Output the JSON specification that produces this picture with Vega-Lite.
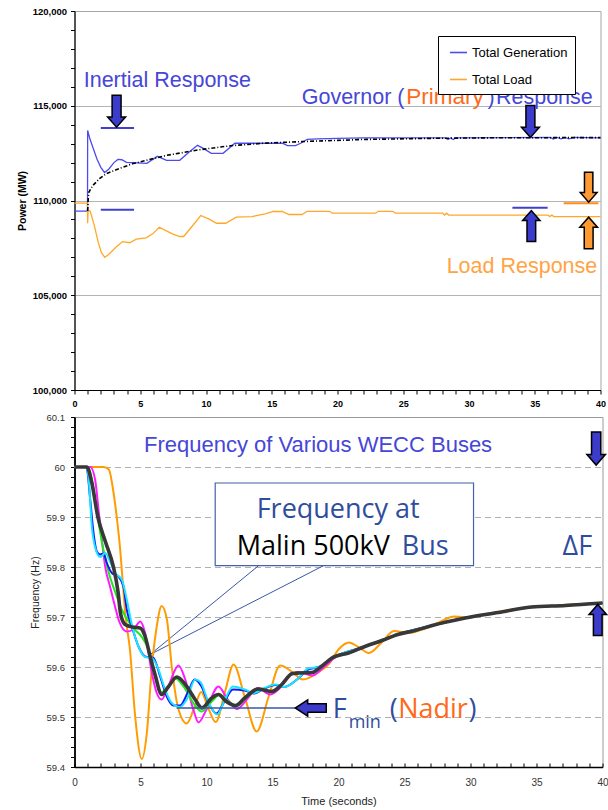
{
  "$schema": "https://vega.github.io/schema/vega-lite/v6.json",
  "background": "white",
  "padding": {"left": 16.5, "top": 5, "right": 0, "bottom": 0},
  "config": {"font": "Liberation Sans"},
  "spacing": 2,
  "resolve": {
    "scale": {"color": "independent", "x": "independent", "y": "independent"},
    "legend": {"color": "independent"}
  },
  "datasets": {
    "power": [
      {"s": "Total Generation", "t": 0, "v": 109435}, {"s": "Total Generation", "t": 0.99, "v": 109435},
      {"s": "Total Generation", "t": 1.0, "v": 113700}, {"s": "Total Generation", "t": 1.15, "v": 113300},
      {"s": "Total Generation", "t": 1.4, "v": 112800}, {"s": "Total Generation", "t": 1.7, "v": 112200},
      {"s": "Total Generation", "t": 2.0, "v": 111750}, {"s": "Total Generation", "t": 2.28, "v": 111480},
      {"s": "Total Generation", "t": 2.6, "v": 111650}, {"s": "Total Generation", "t": 3.0, "v": 112000},
      {"s": "Total Generation", "t": 3.3, "v": 112170}, {"s": "Total Generation", "t": 3.6, "v": 112150},
      {"s": "Total Generation", "t": 3.95, "v": 112010}, {"s": "Total Generation", "t": 5.5, "v": 111960},
      {"s": "Total Generation", "t": 6.3, "v": 112330}, {"s": "Total Generation", "t": 7.0, "v": 112120},
      {"s": "Total Generation", "t": 8.0, "v": 112120}, {"s": "Total Generation", "t": 8.7, "v": 112550},
      {"s": "Total Generation", "t": 9.35, "v": 112910}, {"s": "Total Generation", "t": 9.8, "v": 112750},
      {"s": "Total Generation", "t": 10.4, "v": 112490}, {"s": "Total Generation", "t": 11.3, "v": 112490},
      {"s": "Total Generation", "t": 12.2, "v": 113020}, {"s": "Total Generation", "t": 15.8, "v": 113020},
      {"s": "Total Generation", "t": 16.2, "v": 112900}, {"s": "Total Generation", "t": 16.8, "v": 112900},
      {"s": "Total Generation", "t": 17.2, "v": 113020}, {"s": "Total Generation", "t": 17.7, "v": 113230},
      {"s": "Total Generation", "t": 18.5, "v": 113250}, {"s": "Total Generation", "t": 20, "v": 113280},
      {"s": "Total Generation", "t": 22, "v": 113300}, {"s": "Total Generation", "t": 28.2, "v": 113300},
      {"s": "Total Generation", "t": 28.4, "v": 113220}, {"s": "Total Generation", "t": 28.6, "v": 113300},
      {"s": "Total Generation", "t": 28.8, "v": 113220}, {"s": "Total Generation", "t": 29, "v": 113300},
      {"s": "Total Generation", "t": 36.2, "v": 113330}, {"s": "Total Generation", "t": 36.4, "v": 113250},
      {"s": "Total Generation", "t": 36.7, "v": 113330}, {"s": "Total Generation", "t": 37, "v": 113250},
      {"s": "Total Generation", "t": 37.3, "v": 113330}, {"s": "Total Generation", "t": 37.6, "v": 113250},
      {"s": "Total Generation", "t": 38, "v": 113330}, {"s": "Total Generation", "t": 40, "v": 113300},
      {"s": "Total Load", "t": 0, "v": 109857}, {"s": "Total Load", "t": 0.99, "v": 109857},
      {"s": "Total Load", "t": 1.0, "v": 108800}, {"s": "Total Load", "t": 1.04, "v": 109500},
      {"s": "Total Load", "t": 1.2, "v": 109420}, {"s": "Total Load", "t": 1.5, "v": 108700},
      {"s": "Total Load", "t": 1.8, "v": 107800}, {"s": "Total Load", "t": 2.05, "v": 107250},
      {"s": "Total Load", "t": 2.3, "v": 107000}, {"s": "Total Load", "t": 2.6, "v": 107150},
      {"s": "Total Load", "t": 3.15, "v": 107530}, {"s": "Total Load", "t": 3.65, "v": 107830},
      {"s": "Total Load", "t": 4.2, "v": 107770}, {"s": "Total Load", "t": 4.7, "v": 107960},
      {"s": "Total Load", "t": 5.45, "v": 108030}, {"s": "Total Load", "t": 5.95, "v": 108240},
      {"s": "Total Load", "t": 6.45, "v": 108590}, {"s": "Total Load", "t": 6.95, "v": 108410},
      {"s": "Total Load", "t": 7.45, "v": 108240}, {"s": "Total Load", "t": 8.0, "v": 108100},
      {"s": "Total Load", "t": 8.3, "v": 108100}, {"s": "Total Load", "t": 8.9, "v": 108600},
      {"s": "Total Load", "t": 9.6, "v": 109210}, {"s": "Total Load", "t": 10.2, "v": 109030},
      {"s": "Total Load", "t": 10.8, "v": 108800}, {"s": "Total Load", "t": 11.5, "v": 108800},
      {"s": "Total Load", "t": 12.3, "v": 109120}, {"s": "Total Load", "t": 13.5, "v": 109150},
      {"s": "Total Load", "t": 14.5, "v": 109300}, {"s": "Total Load", "t": 15.1, "v": 109420},
      {"s": "Total Load", "t": 15.8, "v": 109420}, {"s": "Total Load", "t": 16.3, "v": 109260},
      {"s": "Total Load", "t": 17.3, "v": 109260}, {"s": "Total Load", "t": 17.7, "v": 109430},
      {"s": "Total Load", "t": 19.4, "v": 109430}, {"s": "Total Load", "t": 19.6, "v": 109330},
      {"s": "Total Load", "t": 22.9, "v": 109330}, {"s": "Total Load", "t": 23.1, "v": 109430},
      {"s": "Total Load", "t": 24.2, "v": 109430}, {"s": "Total Load", "t": 24.4, "v": 109330},
      {"s": "Total Load", "t": 28, "v": 109330}, {"s": "Total Load", "t": 28.15, "v": 109230},
      {"s": "Total Load", "t": 28.3, "v": 109330}, {"s": "Total Load", "t": 28.45, "v": 109230},
      {"s": "Total Load", "t": 36, "v": 109230}, {"s": "Total Load", "t": 36.15, "v": 109150},
      {"s": "Total Load", "t": 36.3, "v": 109230}, {"s": "Total Load", "t": 36.45, "v": 109150},
      {"s": "Total Load", "t": 40, "v": 109150}
    ],
    "trend": [
      {"t": 1.0, "v": 109450}, {"t": 1.05, "v": 110200}, {"t": 1.1, "v": 110450}, {"t": 1.39, "v": 110790},
      {"t": 1.9, "v": 111150}, {"t": 2.4, "v": 111410}, {"t": 3.17, "v": 111620}, {"t": 4.4, "v": 111940},
      {"t": 7.0, "v": 112380}, {"t": 9.5, "v": 112680}, {"t": 12.0, "v": 112900}, {"t": 14.6, "v": 113030},
      {"t": 17.7, "v": 113120}, {"t": 22, "v": 113220}, {"t": 27, "v": 113280}, {"t": 32, "v": 113310},
      {"t": 40, "v": 113320}
    ],
    "freq": [
      {"bus": "Bus 1", "t": 0, "v": 60}, {"bus": "Bus 1", "t": 2.2, "v": 60}, {"bus": "Bus 1", "t": 2.6, "v": 59.995},
      {"bus": "Bus 1", "t": 2.95, "v": 59.95}, {"bus": "Bus 1", "t": 3.2, "v": 59.9}, {"bus": "Bus 1", "t": 3.46, "v": 59.835},
      {"bus": "Bus 1", "t": 3.71, "v": 59.75}, {"bus": "Bus 1", "t": 3.84, "v": 59.708}, {"bus": "Bus 1", "t": 4.2, "v": 59.635},
      {"bus": "Bus 1", "t": 4.6, "v": 59.5}, {"bus": "Bus 1", "t": 5.1, "v": 59.416}, {"bus": "Bus 1", "t": 5.48, "v": 59.468},
      {"bus": "Bus 1", "t": 5.86, "v": 59.6}, {"bus": "Bus 1", "t": 6.23, "v": 59.681}, {"bus": "Bus 1", "t": 6.6, "v": 59.722},
      {"bus": "Bus 1", "t": 7.0, "v": 59.695}, {"bus": "Bus 1", "t": 7.37, "v": 59.6}, {"bus": "Bus 1", "t": 7.88, "v": 59.515},
      {"bus": "Bus 1", "t": 8.5, "v": 59.487}, {"bus": "Bus 1", "t": 9.1, "v": 59.52}, {"bus": "Bus 1", "t": 9.6, "v": 59.55},
      {"bus": "Bus 1", "t": 10.1, "v": 59.52}, {"bus": "Bus 1", "t": 10.7, "v": 59.49}, {"bus": "Bus 1", "t": 11.4, "v": 59.55},
      {"bus": "Bus 1", "t": 12.05, "v": 59.605}, {"bus": "Bus 1", "t": 12.9, "v": 59.54}, {"bus": "Bus 1", "t": 13.8, "v": 59.471},
      {"bus": "Bus 1", "t": 14.7, "v": 59.54}, {"bus": "Bus 1", "t": 15.58, "v": 59.603}, {"bus": "Bus 1", "t": 16.5, "v": 59.59},
      {"bus": "Bus 1", "t": 17.3, "v": 59.575}, {"bus": "Bus 1", "t": 18.5, "v": 59.59}, {"bus": "Bus 1", "t": 19.3, "v": 59.607},
      {"bus": "Bus 1", "t": 20.0, "v": 59.635}, {"bus": "Bus 1", "t": 20.8, "v": 59.649}, {"bus": "Bus 1", "t": 21.5, "v": 59.64},
      {"bus": "Bus 1", "t": 22.3, "v": 59.628}, {"bus": "Bus 1", "t": 23.3, "v": 59.65}, {"bus": "Bus 1", "t": 24.2, "v": 59.672},
      {"bus": "Bus 1", "t": 25.3, "v": 59.668}, {"bus": "Bus 1", "t": 26.5, "v": 59.676}, {"bus": "Bus 1", "t": 27.5, "v": 59.688},
      {"bus": "Bus 1", "t": 28.8, "v": 59.701}, {"bus": "Bus 1", "t": 30, "v": 59.699}, {"bus": "Bus 1", "t": 31, "v": 59.705},
      {"bus": "Bus 1", "t": 33, "v": 59.714}, {"bus": "Bus 1", "t": 35, "v": 59.72}, {"bus": "Bus 1", "t": 37, "v": 59.724},
      {"bus": "Bus 1", "t": 40, "v": 59.728},
      {"bus": "Bus 2", "t": 0, "v": 60}, {"bus": "Bus 2", "t": 1.2, "v": 60}, {"bus": "Bus 2", "t": 1.56, "v": 59.975},
      {"bus": "Bus 2", "t": 1.82, "v": 59.915}, {"bus": "Bus 2", "t": 2.07, "v": 59.855}, {"bus": "Bus 2", "t": 2.33, "v": 59.8},
      {"bus": "Bus 2", "t": 2.7, "v": 59.76}, {"bus": "Bus 2", "t": 3.08, "v": 59.72}, {"bus": "Bus 2", "t": 3.4, "v": 59.69},
      {"bus": "Bus 2", "t": 3.96, "v": 59.671}, {"bus": "Bus 2", "t": 4.47, "v": 59.675}, {"bus": "Bus 2", "t": 4.98, "v": 59.691},
      {"bus": "Bus 2", "t": 5.35, "v": 59.668}, {"bus": "Bus 2", "t": 5.86, "v": 59.588}, {"bus": "Bus 2", "t": 6.23, "v": 59.548},
      {"bus": "Bus 2", "t": 6.6, "v": 59.535}, {"bus": "Bus 2", "t": 7.1, "v": 59.561}, {"bus": "Bus 2", "t": 7.88, "v": 59.603},
      {"bus": "Bus 2", "t": 8.39, "v": 59.575}, {"bus": "Bus 2", "t": 9.0, "v": 59.515}, {"bus": "Bus 2", "t": 9.39, "v": 59.489},
      {"bus": "Bus 2", "t": 10.0, "v": 59.515}, {"bus": "Bus 2", "t": 10.9, "v": 59.561}, {"bus": "Bus 2", "t": 11.6, "v": 59.535},
      {"bus": "Bus 2", "t": 12.3, "v": 59.516}, {"bus": "Bus 2", "t": 13.05, "v": 59.535}, {"bus": "Bus 2", "t": 13.9, "v": 59.558},
      {"bus": "Bus 2", "t": 14.8, "v": 59.545}, {"bus": "Bus 2", "t": 15.45, "v": 59.555}, {"bus": "Bus 2", "t": 16.2, "v": 59.58},
      {"bus": "Bus 2", "t": 17.0, "v": 59.59}, {"bus": "Bus 2", "t": 18.0, "v": 59.583}, {"bus": "Bus 2", "t": 18.9, "v": 59.6},
      {"bus": "Bus 2", "t": 19.8, "v": 59.62}, {"bus": "Bus 2", "t": 21, "v": 59.63}, {"bus": "Bus 2", "t": 22, "v": 59.641},
      {"bus": "Bus 2", "t": 24.5, "v": 59.665}, {"bus": "Bus 2", "t": 27.1, "v": 59.683}, {"bus": "Bus 2", "t": 29.6, "v": 59.698},
      {"bus": "Bus 2", "t": 32.1, "v": 59.709}, {"bus": "Bus 2", "t": 34.6, "v": 59.72}, {"bus": "Bus 2", "t": 37.2, "v": 59.723},
      {"bus": "Bus 2", "t": 40, "v": 59.728},
      {"bus": "Bus 3", "t": 0, "v": 60}, {"bus": "Bus 3", "t": 1.0, "v": 60}, {"bus": "Bus 3", "t": 1.19, "v": 59.99},
      {"bus": "Bus 3", "t": 1.56, "v": 59.935}, {"bus": "Bus 3", "t": 2.07, "v": 59.85}, {"bus": "Bus 3", "t": 2.58, "v": 59.79},
      {"bus": "Bus 3", "t": 3.08, "v": 59.75}, {"bus": "Bus 3", "t": 3.58, "v": 59.715}, {"bus": "Bus 3", "t": 4.34, "v": 59.681},
      {"bus": "Bus 3", "t": 5.1, "v": 59.66}, {"bus": "Bus 3", "t": 5.6, "v": 59.635}, {"bus": "Bus 3", "t": 6.1, "v": 59.581},
      {"bus": "Bus 3", "t": 6.6, "v": 59.55}, {"bus": "Bus 3", "t": 7.1, "v": 59.56}, {"bus": "Bus 3", "t": 7.6, "v": 59.578},
      {"bus": "Bus 3", "t": 8.26, "v": 59.561}, {"bus": "Bus 3", "t": 9.0, "v": 59.528}, {"bus": "Bus 3", "t": 9.64, "v": 59.511},
      {"bus": "Bus 3", "t": 10.4, "v": 59.531}, {"bus": "Bus 3", "t": 11.0, "v": 59.545}, {"bus": "Bus 3", "t": 11.6, "v": 59.533},
      {"bus": "Bus 3", "t": 12.3, "v": 59.522}, {"bus": "Bus 3", "t": 13.0, "v": 59.538}, {"bus": "Bus 3", "t": 14.0, "v": 59.556},
      {"bus": "Bus 3", "t": 15.0, "v": 59.551}, {"bus": "Bus 3", "t": 15.7, "v": 59.565}, {"bus": "Bus 3", "t": 16.5, "v": 59.587},
      {"bus": "Bus 3", "t": 18, "v": 59.589}, {"bus": "Bus 3", "t": 19.5, "v": 59.618}, {"bus": "Bus 3", "t": 22, "v": 59.641},
      {"bus": "Bus 3", "t": 24.5, "v": 59.665}, {"bus": "Bus 3", "t": 27.1, "v": 59.683}, {"bus": "Bus 3", "t": 29.6, "v": 59.698},
      {"bus": "Bus 3", "t": 32.1, "v": 59.709}, {"bus": "Bus 3", "t": 34.6, "v": 59.72}, {"bus": "Bus 3", "t": 37.2, "v": 59.723},
      {"bus": "Bus 3", "t": 40, "v": 59.728},
      {"bus": "Bus 4", "t": 0, "v": 60}, {"bus": "Bus 4", "t": 0.9, "v": 60}, {"bus": "Bus 4", "t": 1.19, "v": 59.935},
      {"bus": "Bus 4", "t": 1.44, "v": 59.868}, {"bus": "Bus 4", "t": 1.69, "v": 59.831}, {"bus": "Bus 4", "t": 1.95, "v": 59.825},
      {"bus": "Bus 4", "t": 2.2, "v": 59.827}, {"bus": "Bus 4", "t": 2.45, "v": 59.808}, {"bus": "Bus 4", "t": 2.83, "v": 59.788},
      {"bus": "Bus 4", "t": 3.33, "v": 59.781}, {"bus": "Bus 4", "t": 3.71, "v": 59.761}, {"bus": "Bus 4", "t": 3.96, "v": 59.715},
      {"bus": "Bus 4", "t": 4.34, "v": 59.681}, {"bus": "Bus 4", "t": 4.85, "v": 59.641}, {"bus": "Bus 4", "t": 5.35, "v": 59.621},
      {"bus": "Bus 4", "t": 5.98, "v": 59.618}, {"bus": "Bus 4", "t": 6.49, "v": 59.581}, {"bus": "Bus 4", "t": 6.99, "v": 59.541},
      {"bus": "Bus 4", "t": 7.5, "v": 59.523}, {"bus": "Bus 4", "t": 8.0, "v": 59.523}, {"bus": "Bus 4", "t": 8.6, "v": 59.55},
      {"bus": "Bus 4", "t": 9.1, "v": 59.575}, {"bus": "Bus 4", "t": 9.6, "v": 59.562}, {"bus": "Bus 4", "t": 10.15, "v": 59.528},
      {"bus": "Bus 4", "t": 10.75, "v": 59.507}, {"bus": "Bus 4", "t": 11.4, "v": 59.533}, {"bus": "Bus 4", "t": 12.0, "v": 59.555},
      {"bus": "Bus 4", "t": 12.9, "v": 59.553}, {"bus": "Bus 4", "t": 13.6, "v": 59.547}, {"bus": "Bus 4", "t": 14.4, "v": 59.557},
      {"bus": "Bus 4", "t": 15.2, "v": 59.564}, {"bus": "Bus 4", "t": 15.9, "v": 59.56}, {"bus": "Bus 4", "t": 16.95, "v": 59.577},
      {"bus": "Bus 4", "t": 17.7, "v": 59.595}, {"bus": "Bus 4", "t": 18.5, "v": 59.6}, {"bus": "Bus 4", "t": 19.5, "v": 59.618},
      {"bus": "Bus 4", "t": 22, "v": 59.641}, {"bus": "Bus 4", "t": 24.5, "v": 59.665}, {"bus": "Bus 4", "t": 27.1, "v": 59.683},
      {"bus": "Bus 4", "t": 29.6, "v": 59.698}, {"bus": "Bus 4", "t": 32.1, "v": 59.709}, {"bus": "Bus 4", "t": 34.6, "v": 59.72},
      {"bus": "Bus 4", "t": 37.2, "v": 59.723}, {"bus": "Bus 4", "t": 40, "v": 59.728},
      {"bus": "Bus 5", "t": 0, "v": 60}, {"bus": "Bus 5", "t": 0.85, "v": 60}, {"bus": "Bus 5", "t": 1.06, "v": 59.98},
      {"bus": "Bus 5", "t": 1.31, "v": 59.881}, {"bus": "Bus 5", "t": 1.61, "v": 59.835}, {"bus": "Bus 5", "t": 1.95, "v": 59.82},
      {"bus": "Bus 5", "t": 2.33, "v": 59.828}, {"bus": "Bus 5", "t": 2.7, "v": 59.81}, {"bus": "Bus 5", "t": 3.08, "v": 59.788},
      {"bus": "Bus 5", "t": 3.58, "v": 59.775}, {"bus": "Bus 5", "t": 3.96, "v": 59.735}, {"bus": "Bus 5", "t": 4.34, "v": 59.685},
      {"bus": "Bus 5", "t": 4.85, "v": 59.641}, {"bus": "Bus 5", "t": 5.35, "v": 59.62}, {"bus": "Bus 5", "t": 5.86, "v": 59.618},
      {"bus": "Bus 5", "t": 6.36, "v": 59.595}, {"bus": "Bus 5", "t": 6.86, "v": 59.555}, {"bus": "Bus 5", "t": 7.37, "v": 59.528},
      {"bus": "Bus 5", "t": 8.0, "v": 59.52}, {"bus": "Bus 5", "t": 8.5, "v": 59.535}, {"bus": "Bus 5", "t": 9.14, "v": 59.575},
      {"bus": "Bus 5", "t": 9.54, "v": 59.57}, {"bus": "Bus 5", "t": 10.17, "v": 59.528}, {"bus": "Bus 5", "t": 10.8, "v": 59.505},
      {"bus": "Bus 5", "t": 11.4, "v": 59.535}, {"bus": "Bus 5", "t": 12.0, "v": 59.561}, {"bus": "Bus 5", "t": 12.9, "v": 59.555},
      {"bus": "Bus 5", "t": 13.6, "v": 59.548}, {"bus": "Bus 5", "t": 14.4, "v": 59.558}, {"bus": "Bus 5", "t": 15.2, "v": 59.565},
      {"bus": "Bus 5", "t": 15.9, "v": 59.56}, {"bus": "Bus 5", "t": 16.95, "v": 59.577}, {"bus": "Bus 5", "t": 17.7, "v": 59.597},
      {"bus": "Bus 5", "t": 18.5, "v": 59.6}, {"bus": "Bus 5", "t": 19.5, "v": 59.618}, {"bus": "Bus 5", "t": 22, "v": 59.641},
      {"bus": "Bus 5", "t": 24.5, "v": 59.665}, {"bus": "Bus 5", "t": 27.1, "v": 59.683}, {"bus": "Bus 5", "t": 29.6, "v": 59.698},
      {"bus": "Bus 5", "t": 32.1, "v": 59.709}, {"bus": "Bus 5", "t": 34.6, "v": 59.72}, {"bus": "Bus 5", "t": 37.2, "v": 59.723},
      {"bus": "Bus 5", "t": 40, "v": 59.728}
    ],
    "malin": [
      {"t": 0, "v": 60}, {"t": 0.93, "v": 60}, {"t": 1.3, "v": 59.97}, {"t": 1.77, "v": 59.9}, {"t": 2.35, "v": 59.85},
      {"t": 2.95, "v": 59.8}, {"t": 3.3, "v": 59.75}, {"t": 3.5, "v": 59.705}, {"t": 3.84, "v": 59.685}, {"t": 4.4, "v": 59.68},
      {"t": 4.97, "v": 59.678}, {"t": 5.35, "v": 59.661}, {"t": 5.73, "v": 59.621}, {"t": 6.1, "v": 59.585}, {"t": 6.6, "v": 59.545},
      {"t": 7.1, "v": 59.56}, {"t": 7.75, "v": 59.58}, {"t": 8.39, "v": 59.565}, {"t": 9.14, "v": 59.535}, {"t": 9.65, "v": 59.518},
      {"t": 10.4, "v": 59.538}, {"t": 10.9, "v": 59.545}, {"t": 11.5, "v": 59.531}, {"t": 12.2, "v": 59.523}, {"t": 12.9, "v": 59.538},
      {"t": 13.9, "v": 59.556}, {"t": 14.95, "v": 59.551}, {"t": 15.7, "v": 59.565}, {"t": 16.5, "v": 59.587}, {"t": 17.0, "v": 59.588},
      {"t": 18.0, "v": 59.589}, {"t": 18.7, "v": 59.601}, {"t": 19.5, "v": 59.618}, {"t": 20.76, "v": 59.628}, {"t": 22.0, "v": 59.641},
      {"t": 23.3, "v": 59.653}, {"t": 24.5, "v": 59.665}, {"t": 25.8, "v": 59.673}, {"t": 27.1, "v": 59.683}, {"t": 29.6, "v": 59.698},
      {"t": 32.1, "v": 59.709}, {"t": 34.6, "v": 59.72}, {"t": 37.2, "v": 59.723}, {"t": 40, "v": 59.728}
    ]
  },
  "vconcat": [
    {
      "width": 526,
      "height": 379,
      "view": {"stroke": "#a6a6a6", "strokeWidth": 1},
      "encoding": {
        "x": {
          "field": "t", "type": "quantitative",
          "scale": {"domain": [0, 40], "nice": false, "zero": false},
          "axis": {
            "title": null,
            "values": [0,1,2,3,4,5,6,7,8,9,10,11,12,13,14,15,16,17,18,19,20,21,22,23,24,25,26,27,28,29,30,31,32,33,34,35,36,37,38,39,40],
            "labelExpr": "datum.value % 5 === 0 ? datum.label : ''",
            "labelFont": "Liberation Sans", "labelFontWeight": "bold", "labelFontSize": 9, "labelColor": "#000",
            "tickColor": "#000", "tickSize": 4,
            "labelPadding": 5,
            "domainColor": "#000", "domainWidth": 1.2,
            "grid": false, "labelFlush": false
          }
        },
        "y": {
          "field": "v", "type": "quantitative",
          "scale": {"domain": [100000, 120000], "nice": false, "zero": false},
          "axis": {
            "title": "Power (MW)",
            "titleFont": "Liberation Sans", "titleFontSize": 10.5, "titleFontWeight": "bold", "titleColor": "#000",
            "titlePadding": 5,
            "values": [100000,101000,102000,103000,104000,105000,106000,107000,108000,109000,110000,111000,112000,113000,114000,115000,116000,117000,118000,119000,120000],
            "labelExpr": "datum.value % 5000 === 0 ? format(datum.value, ',') : ''",
            "labelFont": "Liberation Sans", "labelFontWeight": "bold", "labelFontSize": 9.5, "labelColor": "#000",
            "labelPadding": 4,
            "tickColor": "#000", "tickSize": 4,
            "domainColor": "#000", "domainWidth": 1.2,
            "grid": true, "gridColor": "#b4b4b4", "gridWidth": 1,
            "gridOpacity": {"condition": {"test": "datum.value % 5000 === 0 && datum.value > 100000 && datum.value < 120000", "value": 1}, "value": 0}
          }
        }
      },
      "layer": [
        {
          "data": {"name": "power"},
          "mark": {"type": "line", "strokeWidth": 1.3, "interpolate": "linear"},
          "encoding": {
            "color": {
              "field": "s", "type": "nominal",
              "scale": {"domain": ["Total Generation", "Total Load"], "range": ["#4b4bf0", "#ffa828"]},
              "legend": {
                "orient": "none", "legendX": 363.5, "legendY": 25, "title": null,
                "strokeColor": "#000", "fillColor": "#fff", "padding": 7,
                "symbolType": "stroke", "symbolSize": 289, "symbolStrokeWidth": 1.6,
                "labelFont": "Liberation Sans", "labelFontSize": 13, "labelColor": "#000",
                "rowPadding": 10, "symbolOffset": 4, "labelOffset": 4
              }
            }
          }
        },
        {
          "data": {"name": "trend"},
          "mark": {"type": "line", "color": "#000", "strokeWidth": 1.6, "strokeDash": [4, 2, 1, 2]}
        },
        {
          "data": {"values": [
            {"t": 2.0, "t2": 4.53, "v": 113820},
            {"t": 2.0, "t2": 4.53, "v": 109510},
            {"t": 33.3, "t2": 35.98, "v": 109614}
          ]},
          "mark": {"type": "rule", "color": "#4040d0", "strokeWidth": 2},
          "encoding": {"x2": {"field": "t2"}}
        },
        {
          "data": {"values": [{"t": 37.2, "t2": 39.84, "v": 109857}]},
          "mark": {"type": "rule", "color": "#ff8c1a", "strokeWidth": 2},
          "encoding": {"x2": {"field": "t2"}}
        },
        {
          "data": {"values": [{"t": 3.2, "v": 114712}, {"t": 34.67, "v": 114173}]},
          "mark": {"type": "point", "shape": "M-0.28,-1L0.28,-1L0.28,0.36L0.56,0.36L0,1L-0.56,0.36L-0.28,0.36Z", "size": 1024, "filled": true, "fill": "#3b3bcc", "stroke": "#000", "strokeWidth": 1.5, "opacity": 1}
        },
        {
          "data": {"values": [{"t": 34.74, "v": 108653}]},
          "mark": {"type": "point", "shape": "M-0.28,1L0.28,1L0.28,-0.36L0.56,-0.36L0,-1L-0.56,-0.36L-0.28,-0.36Z", "size": 961, "filled": true, "fill": "#3b3bcc", "stroke": "#000", "strokeWidth": 1.5, "opacity": 1}
        },
        {
          "data": {"values": [{"t": 39.1, "v": 110703}]},
          "mark": {"type": "point", "shape": "M-0.28,-1L0.28,-1L0.28,0.36L0.56,0.36L0,1L-0.56,0.36L-0.28,0.36Z", "size": 900, "filled": true, "fill": "#ff9a33", "stroke": "#000", "strokeWidth": 1.5, "opacity": 1}
        },
        {
          "data": {"values": [{"t": 39.1, "v": 108283}]},
          "mark": {"type": "point", "shape": "M-0.28,1L0.28,1L0.28,-0.36L0.56,-0.36L0,-1L-0.56,-0.36L-0.28,-0.36Z", "size": 1000, "filled": true, "fill": "#ff9a33", "stroke": "#000", "strokeWidth": 1.5, "opacity": 1}
        },
        {
          "data": {"values": [
            {"label": "Inertial Response", "t": 0.7, "v": 115985},
            {"label": "Governor (", "t": 17.28, "v": 115071},
            {"label": ")", "t": 31.41, "v": 115071},
            {"label": "Response", "t": 32.05, "v": 115071}
          ]},
          "mark": {"type": "text", "align": "left", "baseline": "alphabetic", "font": "Liberation Sans", "fontSize": 21.5, "color": "#4646d8"},
          "encoding": {"text": {"field": "label", "type": "nominal"}}
        },
        {
          "data": {"values": [{"label": "Primary", "t": 25.22, "v": 115071}]},
          "mark": {"type": "text", "align": "left", "baseline": "alphabetic", "font": "Liberation Sans", "fontSize": 22.5, "color": "#ff6a1a"},
          "encoding": {"text": {"field": "label", "type": "nominal"}}
        },
        {
          "data": {"values": [{"label": "Load Response", "t": 28.3, "v": 106180}]},
          "mark": {"type": "text", "align": "left", "baseline": "alphabetic", "font": "Liberation Sans", "fontSize": 21.5, "color": "#ffa445"},
          "encoding": {"text": {"field": "label", "type": "nominal"}}
        }
      ]
    },
    {
      "width": 528,
      "height": 350,
      "view": {"stroke": "#9a9a9a", "strokeWidth": 1},
      "encoding": {
        "x": {
          "field": "t", "type": "quantitative",
          "scale": {"domain": [0, 40], "nice": false, "zero": false},
          "axis": {
            "title": "Time (seconds)",
            "titleFont": "Liberation Sans", "titleFontSize": 11, "titleFontWeight": "normal", "titleColor": "#222",
            "titlePadding": 8,
            "values": [0,1,2,3,4,5,6,7,8,9,10,11,12,13,14,15,16,17,18,19,20,21,22,23,24,25,26,27,28,29,30,31,32,33,34,35,36,37,38,39,40],
            "labelExpr": "datum.value % 5 === 0 ? datum.label : ''",
            "labelFont": "Liberation Sans", "labelFontSize": 10, "labelColor": "#333",
            "tickColor": "#000", "tickSize": -4, "labelPadding": 14,
            "domainColor": "#000", "domainWidth": 1.5,
            "grid": false, "labelFlush": false
          }
        },
        "y": {
          "field": "v", "type": "quantitative",
          "scale": {"domain": [59.4, 60.1], "nice": false, "zero": false},
          "axis": {
            "title": "Frequency (Hz)",
            "titleFont": "Liberation Sans", "titleFontSize": 10.5, "titleFontWeight": "normal", "titleColor": "#222",
            "titlePadding": 6,
            "values": [59.4,59.42,59.44,59.46,59.48,59.5,59.52,59.54,59.56,59.58,59.6,59.62,59.64,59.66,59.68,59.7,59.72,59.74,59.76,59.78,59.8,59.82,59.84,59.86,59.88,59.9,59.92,59.94,59.96,59.98,60,60.02,60.04,60.06,60.08,60.1],
            "labelExpr": "abs(datum.value * 10 - round(datum.value * 10)) < 0.001 ? format(datum.value, '~g') : ''",
            "labelFont": "Liberation Sans", "labelFontSize": 9.5, "labelColor": "#333",
            "labelPadding": 6,
            "tickColor": "#000", "tickSize": 4,
            "domainColor": "#000", "domainWidth": 1.8,
            "grid": true, "gridColor": "#b0b0b0", "gridWidth": 1, "gridDash": [6, 4],
            "gridOpacity": {"condition": {"test": "abs(datum.value * 10 - round(datum.value * 10)) < 0.001 && datum.value > 59.45 && datum.value < 60.05", "value": 1}, "value": 0}
          }
        }
      },
      "layer": [
        {
          "data": {"values": [{"t": 10.66, "t2": 30.23, "v": 59.8026, "v2": 59.968}]},
          "mark": {"type": "rect", "fill": "#ffffff", "stroke": "#4560b0", "strokeWidth": 1.2},
          "encoding": {"x2": {"field": "t2"}, "y2": {"field": "v2"}}
        },
        {
          "data": {"values": [
            {"t": 5.73, "v": 59.625, "t2": 13.94, "v2": 59.8026},
            {"t": 5.73, "v": 59.625, "t2": 18.86, "v2": 59.8026}
          ]},
          "mark": {"type": "rule", "color": "#3a57a8", "strokeWidth": 1},
          "encoding": {"x2": {"field": "t2"}, "y2": {"field": "v2"}}
        },
        {
          "data": {"name": "freq"},
          "mark": {"type": "line", "strokeWidth": 2, "interpolate": "monotone"},
          "encoding": {
            "color": {
              "field": "bus", "type": "nominal",
              "scale": {"domain": ["Bus 1", "Bus 2", "Bus 3", "Bus 4", "Bus 5"], "range": ["#ff9c00", "#ff1aff", "#1fe81f", "#1414ff", "#1ae4ff"]},
              "legend": null
            }
          }
        },
        {
          "data": {"name": "malin"},
          "mark": {"type": "line", "strokeWidth": 3.6, "color": "#383838", "interpolate": "monotone"}
        },
        {
          "data": {"values": [{"t": 7.73, "t2": 16.7, "v": 59.518}]},
          "mark": {"type": "rule", "color": "#3a57a8", "strokeWidth": 1.5},
          "encoding": {"x2": {"field": "t2"}}
        },
        {
          "data": {"values": [{"t": 39.52, "v": 60.037}]},
          "mark": {"type": "point", "shape": "M-0.28,-1L0.28,-1L0.28,0.36L0.56,0.36L0,1L-0.56,0.36L-0.28,0.36Z", "size": 1089, "filled": true, "fill": "#3b3bcc", "stroke": "#000", "strokeWidth": 1.5, "opacity": 1}
        },
        {
          "data": {"values": [{"t": 39.64, "v": 59.694}]},
          "mark": {"type": "point", "shape": "M-0.28,1L0.28,1L0.28,-0.36L0.56,-0.36L0,-1L-0.56,-0.36L-0.28,-0.36Z", "size": 961, "filled": true, "fill": "#3b3bcc", "stroke": "#000", "strokeWidth": 1.5, "opacity": 1}
        },
        {
          "data": {"values": [{"t": 17.9, "v": 59.518}]},
          "mark": {"type": "point", "shape": "M1,-0.27L1,0.27L-0.2,0.27L-0.2,0.52L-1,0L-0.2,-0.52L-0.2,-0.27Z", "size": 961, "filled": true, "fill": "#3b3bcc", "stroke": "#000", "strokeWidth": 1.5, "opacity": 1}
        },
        {
          "data": {"values": [{"label": "Frequency of Various WECC Buses", "t": 5.27, "v": 60.031}]},
          "mark": {"type": "text", "align": "left", "baseline": "alphabetic", "font": "Liberation Sans", "fontSize": 22, "color": "#4646d8"},
          "encoding": {"text": {"field": "label", "type": "nominal"}}
        },
        {
          "data": {"values": [
            {"label": "Frequency at", "t": 13.8, "v": 59.898},
            {"label": "Bus", "t": 24.8, "v": 59.8246},
            {"label": "ΔF", "t": 36.97, "v": 59.8246},
            {"label": "F", "t": 19.57, "v": 59.498},
            {"label": "(", "t": 23.88, "v": 59.498},
            {"label": ")", "t": 29.85, "v": 59.498}
          ]},
          "mark": {"type": "text", "align": "left", "baseline": "alphabetic", "font": "Open Sans", "fontSize": 27, "color": "#2f4d9e"},
          "encoding": {"text": {"field": "label", "type": "nominal"}}
        },
        {
          "data": {"values": [{"label": "Malin 500kV", "t": 12.29, "v": 59.8246}]},
          "mark": {"type": "text", "align": "left", "baseline": "alphabetic", "font": "Open Sans", "fontSize": 27, "color": "#000000"},
          "encoding": {"text": {"field": "label", "type": "nominal"}}
        },
        {
          "data": {"values": [{"label": "min", "t": 20.77, "v": 59.4786}]},
          "mark": {"type": "text", "align": "left", "baseline": "alphabetic", "font": "Open Sans", "fontSize": 18, "color": "#2f4d9e"},
          "encoding": {"text": {"field": "label", "type": "nominal"}}
        },
        {
          "data": {"values": [{"label": "Nadir", "t": 24.52, "v": 59.498}]},
          "mark": {"type": "text", "align": "left", "baseline": "alphabetic", "font": "Open Sans", "fontSize": 27, "color": "#ff6a1a"},
          "encoding": {"text": {"field": "label", "type": "nominal"}}
        }
      ]
    }
  ]
}
